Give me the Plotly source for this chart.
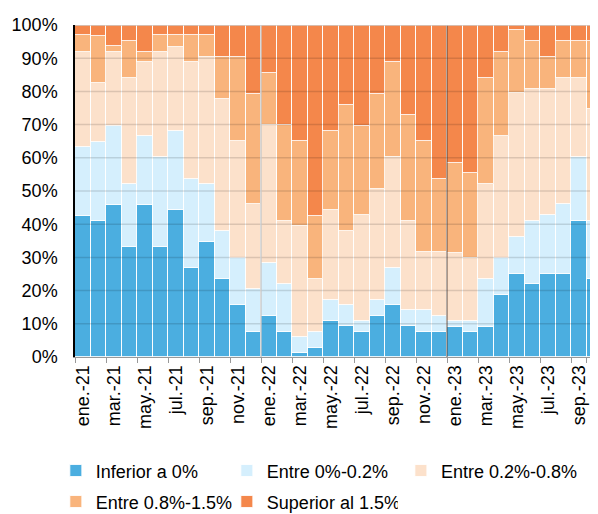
import plotly.graph_objects as go

months = ["ene.-21","feb.-21","mar.-21","abr.-21","may.-21","jun.-21","jul.-21","ago.-21",
          "sep.-21","oct.-21","nov.-21","dic.-21","ene.-22","feb.-22","mar.-22","abr.-22",
          "may.-22","jun.-22","jul.-22","ago.-22","sep.-22","oct.-22","nov.-22","dic.-22",
          "ene.-23","feb.-23","mar.-23","abr.-23","may.-23","jun.-23","jul.-23","ago.-23",
          "sep.-23","oct.-23"]

# cumulative tops (share of months, %)
cum_inferior = [42.5,41.0,45.9,33.1,45.9,33.1,44.2,26.7,34.7,23.5,15.6,7.5,12.3,7.5,1.2,2.6,
                10.8,9.2,7.5,12.3,15.6,9.2,7.5,7.5,9.0,7.5,9.0,18.6,25.0,21.9,25.0,25.0,41.1,23.5]
cum_0_02 = [63.2,64.8,69.7,52.2,66.5,60.2,68.1,53.6,52.2,37.9,29.8,20.6,28.4,21.9,6.0,7.5,
            17.3,15.8,10.8,17.3,26.8,14.1,14.1,12.3,10.7,10.7,23.6,29.8,36.2,41.1,42.7,46.0,60.2,41.1]
cum_02_08 = [91.9,82.4,91.9,83.9,88.8,91.9,93.5,88.8,90.4,77.6,65.0,46.0,69.8,41.0,39.5,23.6,
             44.4,38.0,42.7,50.6,60.2,41.1,31.6,31.6,31.4,29.9,52.2,66.5,79.4,80.8,80.8,84.0,84.0,74.6]
cum_08_15 = [96.9,96.7,93.6,95.2,91.9,96.9,96.9,96.9,96.9,90.4,90.4,79.3,85.6,69.8,65.0,42.6,
             68.1,76.0,69.7,79.3,88.8,72.9,65.0,53.7,58.5,55.5,84.0,91.9,98.4,95.3,90.4,95.2,95.2,95.2]

def diff(a, b):
    return [round(x - y, 1) for x, y in zip(a, b)]

inferior = cum_inferior
entre_0_02 = diff(cum_0_02, cum_inferior)
entre_02_08 = diff(cum_02_08, cum_0_02)
entre_08_15 = diff(cum_08_15, cum_02_08)
superior = [round(100 - x, 1) for x in cum_08_15]

series = [
    ("Inferior a 0%", inferior, "#4BAEE0", "legend"),
    ("Entre 0%-0.2%", entre_0_02, "#D5EFFD", "legend"),
    ("Entre 0.2%-0.8%", entre_02_08, "#FCE1CB", "legend3"),
    ("Entre 0.8%-1.5%", entre_08_15, "#F9B47C", "legend2"),
    ("Superior al 1.5%", superior, "#F4874B", "legend2"),
]

fig = go.Figure()
for name, vals, col, lg in series:
    fig.add_trace(go.Bar(
        x=months, y=[v / 100 for v in vals], name=name, legend=lg,
        marker=dict(color=col, line=dict(color="rgba(255,255,255,0.85)", width=1)),
    ))

# gridlines drawn above bars
for k in range(1, 10):
    fig.add_shape(type="line", xref="paper", yref="y", x0=0, x1=1, y0=k / 10, y1=k / 10,
                  line=dict(color="rgba(0,0,0,0.13)", width=1.5), layer="above")
# year separators
fig.add_shape(type="line", xref="x", yref="paper", x0=11.5, x1=11.5, y0=0, y1=1,
              line=dict(color="rgba(200,200,200,0.9)", width=1.5), layer="above")
fig.add_shape(type="line", xref="x", yref="paper", x0=23.5, x1=23.5, y0=0, y1=1,
              line=dict(color="rgba(80,60,50,0.6)", width=1.5), layer="above")
fig.add_shape(type="line", xref="paper", yref="y", x0=0, x1=1, y0=1, y1=1,
              line=dict(color="#ccc", width=1.5), layer="above")

legend_common = dict(orientation="h", xref="container", yref="container",
                     x=0.080, xanchor="left", yanchor="top",
                     entrywidth=126, entrywidthmode="pixels", traceorder="normal",
                     font=dict(size=18), tracegroupgap=0, bgcolor="rgba(0,0,0,0)")

fig.update_layout(
    barmode="stack", bargap=0,
    width=598, height=514,
    margin=dict(l=67, r=8, t=17, b=165, autoexpand=False),
    paper_bgcolor="white", plot_bgcolor="white",
    font=dict(family="Liberation Sans, Arial, sans-serif", size=18, color="#000"),
    showlegend=True,
    legend=dict(legend_common, y=0.1356),
    legend2=dict(legend_common, y=0.0753),
    legend3=dict(orientation="h", xref="container", yref="container",
                 x=0.657, xanchor="left", yanchor="top", y=0.1356,
                 font=dict(size=18), bgcolor="rgba(0,0,0,0)"),
    xaxis=dict(
        type="category", range=[-0.5, 33.24],
        tickmode="array", tickvals=months[::2], ticktext=months[::2],
        tickson="boundaries", ticks="outside", ticklen=5, tickcolor="#999",
        tickangle=-90, tickfont=dict(size=18),
        showline=True, linecolor="#999", linewidth=1,
        showgrid=False, zeroline=False,
    ),
    yaxis=dict(
        range=[0, 1], tickformat=".0%", dtick=0.1,
        showgrid=False, zeroline=False,
        showline=True, linecolor="#000", linewidth=1.5,
        ticks="", tickfont=dict(size=18), ticklabelstandoff=12,
    ),
)

fig.write_html("out.html")
